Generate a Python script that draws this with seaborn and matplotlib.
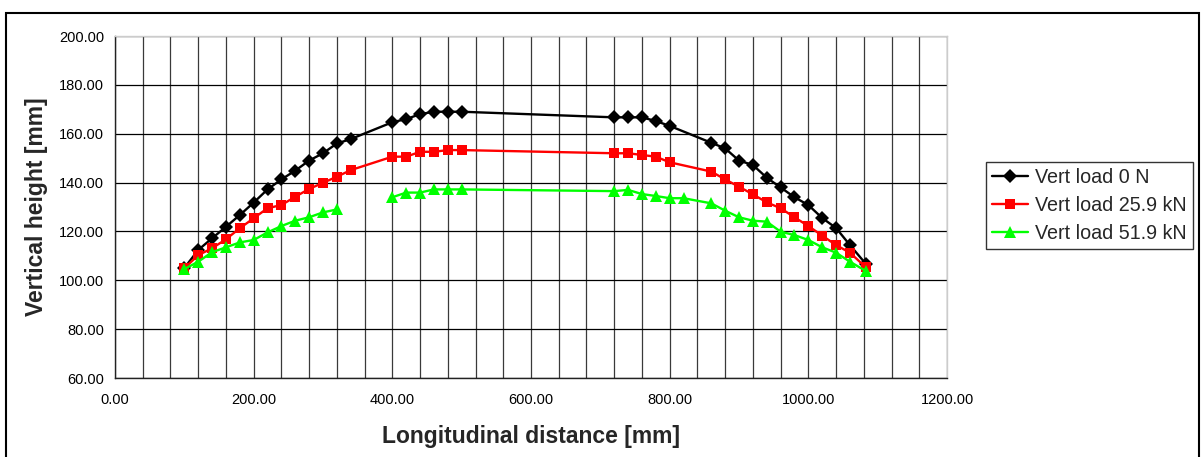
import numpy as np
import pandas as pd
import matplotlib
matplotlib.use("Agg")
import matplotlib.pyplot as plt
from matplotlib.patches import Rectangle
from matplotlib.ticker import MultipleLocator, FormatStrFormatter
import seaborn as sns

# ---------------- data ----------------
series_labels = ["Vert load 0 N", "Vert load 25.9 kN", "Vert load 51.9 kN"]

x_black = [100, 120, 140, 160, 180, 200, 220, 240, 260, 280, 300, 320, 340,
           400, 420, 440, 460, 480, 500,
           720, 740, 760, 780, 800,
           860, 880, 900, 920, 940, 960, 980, 1000, 1020, 1040, 1060, 1083]
y_black = [105.0, 112.4, 117.2, 121.9, 126.7, 131.8, 137.2, 141.3, 144.9, 149.0, 152.0, 156.0, 157.8,
           164.7, 166.0, 168.0, 169.0, 169.0, 169.0,
           166.7, 166.7, 166.7, 165.2, 163.2,
           156.3, 154.0, 149.0, 147.2, 142.0, 138.0, 134.0, 130.8, 125.5, 121.4, 114.4, 106.7]

x_red = [100, 120, 140, 160, 180, 200, 220, 240, 260, 280, 300, 320, 340,
         400, 420, 440, 460, 480, 500,
         720, 740, 760, 780, 800,
         860, 880, 900, 920, 940, 960, 980, 1000, 1020, 1040, 1060, 1083]
y_red = [104.9, 110.3, 113.1, 116.8, 121.3, 125.4, 129.5, 130.8, 134.2, 137.4, 139.9, 142.4, 145.1,
         150.6, 150.6, 152.6, 152.6, 153.3, 153.3,
         152.0, 152.0, 151.3, 150.6, 148.3,
         144.5, 141.3, 138.3, 135.2, 131.9, 129.5, 125.8, 122.2, 118.3, 114.4, 111.3, 105.3]

# None = missing reading (line is broken there)
x_green = [100, 120, 140, 160, 180, 200, 220, 240, 260, 280, 300, 320, 340,
           400, 420, 440, 460, 480, 500,
           720, 740, 760, 780, 800, 820,
           860, 880, 900, 920, 940, 960, 980, 1000, 1020, 1040, 1060, 1083]
y_green = [104.6, 107.6, 111.5, 113.5, 115.5, 116.5, 119.6, 122.2, 124.4, 125.8, 127.8, 129.0, None,
           134.0, 135.9, 135.9, 137.2, 137.2, 137.2,
           136.5, 137.0, 135.3, 134.5, 133.6, 133.6,
           131.5, 128.5, 125.8, 124.4, 124.0, 119.9, 118.5, 116.5, 113.5, 111.3, 107.6, 103.8]

x_ticks = [0, 200, 400, 600, 800, 1000, 1200]
y_ticks = [60, 80, 100, 120, 140, 160, 180, 200]

# ---------------- style ----------------
sns.set_theme(style="white")
plt.rcParams["font.family"] = ["Liberation Sans", "DejaVu Sans"]

W, H = 1202, 457
fig = plt.figure(figsize=(W / 100, H / 100), dpi=100)
ax = fig.add_axes([115 / W, (H - 378) / H, (947 - 115) / W, (378 - 36) / H])

styles = [
    dict(color="black", marker="D", markersize=7, markeredgewidth=0),
    dict(color="#ff0000", marker="s", markersize=7.5, markeredgewidth=0),
    dict(color="#00ff00", marker="^", markersize=8.5, markeredgewidth=0),
]

handles = []
for (xs, ys), lab, st in zip([(x_black, y_black), (x_red, y_red), (x_green, y_green)],
                             series_labels, styles):
    df = pd.DataFrame({"x": xs, "y": pd.to_numeric(pd.Series(ys), errors="coerce")})
    seg = df["y"].isna().cumsum()
    df = df.assign(seg=seg).dropna()
    first = True
    for _, part in df.groupby("seg"):
        sns.lineplot(data=part, x="x", y="y", ax=ax, estimator=None, sort=False,
                     linewidth=1.7, label=None, legend=False, zorder=5, **st)
        if first:
            handles.append(ax.lines[-1])
            first = False

ax.set_xlim(0, 1200)
ax.set_ylim(60, 200)
ax.set_xticks(x_ticks)
ax.set_yticks(y_ticks)
ax.xaxis.set_minor_locator(MultipleLocator(40))
ax.xaxis.set_major_formatter(FormatStrFormatter("%.2f"))
ax.yaxis.set_major_formatter(FormatStrFormatter("%.2f"))

ax.grid(True, which="major", axis="y", color="black", linewidth=0.9)
ax.grid(True, which="both", axis="x", color="#3a3a3a", linewidth=0.9)
ax.set_axisbelow(True)

for s in ["left", "bottom"]:
    ax.spines[s].set_color("#222222")
    ax.spines[s].set_linewidth(1.0)
for s in ["top", "right"]:
    ax.spines[s].set_color("#cccccc")
    ax.spines[s].set_linewidth(1.0)

ax.tick_params(axis="both", which="major", direction="out", length=5, width=1,
               color="#222222", labelsize=10.5, labelcolor="black")
ax.tick_params(axis="x", which="major", pad=6)
ax.tick_params(axis="y", which="major", pad=3)
ax.tick_params(axis="x", which="minor", length=0)

ax.set_xlabel("Longitudinal distance [mm]", fontsize=16.5, fontweight="bold", labelpad=13)
ax.set_ylabel("Vertical height [mm]", fontsize=16.5, fontweight="bold", labelpad=8)

leg = ax.legend(handles, series_labels, loc="upper left",
                bbox_to_anchor=(986 / W, (H - 162) / H), bbox_transform=fig.transFigure,
                borderaxespad=0, fancybox=False, frameon=True, fontsize=14.2,
                handlelength=1.8, handletextpad=0.35, labelspacing=0.45,
                borderpad=0.32)
leg.get_frame().set_edgecolor("black")
leg.get_frame().set_linewidth(1.0)

# outer chart frame
fig.patches.append(Rectangle((6 / W, -0.02), (1199 - 6) / W, (H - 12.5) / H + 0.02,
                             transform=fig.transFigure, fill=False,
                             edgecolor="black", linewidth=1.5))

fig.savefig("out.png", dpi=100)
